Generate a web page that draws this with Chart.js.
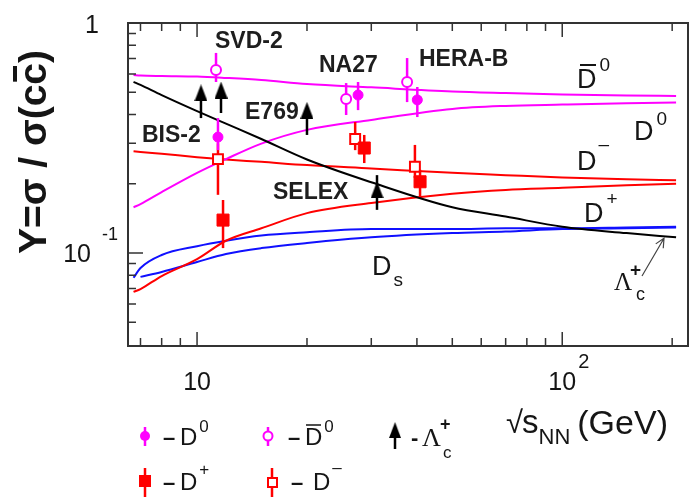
<!DOCTYPE html>
<html>
<head>
<meta charset="utf-8">
<script src="https://cdn.jsdelivr.net/npm/chart.js@4.4.0/dist/chart.umd.min.js"></script>
<style>
  html, body { margin: 0; padding: 0; background: #fff; }
  #wrap { width: 690px; height: 500px; }
</style>
</head>
<body>
<div id="wrap"><canvas id="yieldChart" width="690" height="500"></canvas></div>
<script>
// model curves, common sqrt(s) grid
const curveX   = [6.7, 7, 8, 10, 12, 15, 20, 30, 50, 70, 100, 150, 205];
const curveD0b = [0.594, 0.591, 0.588, 0.585, 0.577, 0.565, 0.543, 0.525, 0.504, 0.496, 0.489, 0.484, 0.482];
const curveD0  = [0.158, 0.163, 0.184, 0.223, 0.256, 0.299, 0.343, 0.379, 0.423, 0.436, 0.442, 0.448, 0.451];
const curveDm  = [0.277, 0.275, 0.270, 0.261, 0.255, 0.249, 0.241, 0.233, 0.223, 0.218, 0.213, 0.209, 0.207];
const curveDp  = [0.0677, 0.0697, 0.0794, 0.094, 0.113, 0.128, 0.149, 0.165, 0.181, 0.188, 0.192, 0.197, 0.200];
const curveDsHi = [0.078, 0.086, 0.098, 0.107, 0.113, 0.119, 0.123, 0.127, 0.127, 0.128, 0.128, 0.129, 0.130];
const curveDsLo = [null, 0.0787, 0.0827, 0.0914, 0.099, 0.105, 0.1105, 0.117, 0.122, 0.124, 0.127, 0.128, 0.129];
const curveLc  = [0.555, 0.538, 0.486, 0.414, 0.365, 0.313, 0.255, 0.203, 0.158, 0.144, 0.130, 0.122, 0.117];

// measurements (SVD-2, NA27, HERA-B)
const d0X = [11.41, 27.6, 40.1];
const d0Y = [0.319, 0.486, 0.463];
const d0Lo = [0.280, 0.418, 0.390];
const d0Hi = [0.386, 0.554, 0.527];

const d0bX = [11.27, 25.6, 37.6];
const d0bY = [0.625, 0.467, 0.554];
const d0bLo = [0.554, 0.398, 0.453];
const d0bHi = [0.741, 0.548, 0.704];

const dpX = [11.78, 28.7, 40.8];
const dpY = [0.139, 0.286, 0.204];
const dpLo = [0.105, 0.246, 0.175];
const dpHi = [0.170, 0.326, 0.230];

const dmX = [11.41, 27.1, 39.5];
const dmY = [0.256, 0.313, 0.237];
const dmLo = [0.179, 0.280, 0.212];
const dmHi = [0.300, 0.371, 0.295];

// Lambda_c (BIS-2, SVD-2, E769, SELEX)
const lcX = [10.25, 11.63, 20.0, 31.1];
const lcY = [0.497, 0.511, 0.417, 0.188];
const lcLo = [0.386, 0.406, 0.326, 0.154];
const lcHi = [null, null, null, 0.218];

// axis ticks
const xMajor = [10, 100];
const xMinor = [7, 8, 9, 20, 30, 40, 50, 60, 70, 80, 90, 200];
const yMajor = [0.1, 1];
const yMinor = [0.05, 0.06, 0.07, 0.08, 0.09, 0.2, 0.3, 0.4, 0.5, 0.6, 0.7, 0.8, 0.9];

const SANS = '"Liberation Sans", Arial, sans-serif';
const SERIF = '"Liberation Serif", "Times New Roman", serif';
const MAG = '#ff00ff', RED = '#ff0000', BLUE = '#1010ff', INK = '#151515';

function pts(xs, ys) {
  return xs.map((x, i) => ys[i] == null ? null : { x: x, y: ys[i] }).filter(p => p);
}

// tall triangle used as Lambda_c marker
function makeTriangle(w, h) {
  const c = document.createElement('canvas');
  c.width = w; c.height = h;
  const g = c.getContext('2d');
  g.fillStyle = '#000';
  g.beginPath();
  g.moveTo(w / 2, 0); g.lineTo(w, h); g.lineTo(0, h); g.closePath();
  g.fill();
  return c;
}
const triImg = makeTriangle(13, 17);

function rich(ctx, x, y, parts) {
  let cx = x;
  parts.forEach(p => {
    ctx.font = p.f;
    const w = ctx.measureText(p.t).width;
    ctx.fillText(p.t, cx + (p.dx || 0), y + (p.dy || 0));
    cx += w + (p.dx || 0);
  });
  return cx;
}

function bar(ctx, x1, x2, y, lw) {
  ctx.beginPath();
  ctx.lineWidth = lw || 2;
  ctx.moveTo(x1, y); ctx.lineTo(x2, y);
  ctx.stroke();
}

const errorBars = {
  id: 'errorBars',
  beforeDatasetDraw(chart, args) {
    const ds = chart.data.datasets[args.index];
    if (!ds.errLo) return;
    const ctx = chart.ctx, xs = chart.scales.x, ys = chart.scales.y;
    ctx.save();
    ctx.strokeStyle = ds.errColor;
    ctx.lineWidth = 2.5;
    ds.data.forEach((p, i) => {
      const px = xs.getPixelForValue(p.x);
      const lo = ds.errLo[i] == null ? p.y : ds.errLo[i];
      const hi = ds.errHi[i] == null ? p.y : ds.errHi[i];
      ctx.beginPath();
      ctx.moveTo(px, ys.getPixelForValue(lo));
      ctx.lineTo(px, ys.getPixelForValue(hi));
      ctx.stroke();
    });
    ctx.restore();
  }
};

const decorations = {
  id: 'decorations',
  afterDraw(chart) {
    const ctx = chart.ctx, a = chart.chartArea;
    const xs = chart.scales.x, ys = chart.scales.y;
    ctx.save();
    // frame
    ctx.strokeStyle = '#333';
    ctx.lineWidth = 2;
    ctx.strokeRect(a.left, a.top, a.right - a.left, a.bottom - a.top);
    // ticks, pointing inward
    ctx.lineWidth = 1.5;
    ctx.beginPath();
    xMajor.concat(xMinor).forEach(v => {
      const px = xs.getPixelForValue(v), len = xMajor.includes(v) ? 14 : 8;
      ctx.moveTo(px, a.bottom); ctx.lineTo(px, a.bottom - len);
      ctx.moveTo(px, a.top); ctx.lineTo(px, a.top + len);
    });
    yMajor.concat(yMinor).forEach(v => {
      const py = ys.getPixelForValue(v), len = yMajor.includes(v) ? 15 : 8;
      ctx.moveTo(a.left, py); ctx.lineTo(a.left + len, py);
    });
    ctx.stroke();

    ctx.fillStyle = INK;
    ctx.strokeStyle = INK;
    ctx.textBaseline = 'alphabetic';
    // tick labels
    ctx.textAlign = 'center';
    ctx.font = '25px ' + SANS;
    ctx.fillText('10', xs.getPixelForValue(10), 390);
    ctx.fillText('10', xs.getPixelForValue(100), 390);
    ctx.textAlign = 'left';
    ctx.font = '20px ' + SANS;
    ctx.fillText('2', xs.getPixelForValue(100) + 16, 368);
    ctx.textAlign = 'right';
    ctx.font = '25px ' + SANS;
    ctx.fillText('1', 99, ys.getPixelForValue(1) + 10);
    ctx.fillText('10', 91, ys.getPixelForValue(0.1) + 9);
    ctx.textAlign = 'left';
    ctx.font = '18px ' + SANS;
    ctx.fillText('-1', 102, ys.getPixelForValue(0.1) - 13);

    // axis titles
    const xe = rich(ctx, 506, 433, [
      { t: '\u221A', f: '31px ' + SANS },
      { t: 's', f: '33px ' + SANS, dx: -1 },
      { t: 'NN', f: '22px ' + SANS, dy: 11 }
    ]);
    ctx.font = '34px ' + SANS;
    ctx.fillText('(GeV)', xe + 7, 434);

    ctx.save();
    ctx.translate(46, 152);
    ctx.rotate(-Math.PI / 2);
    ctx.font = 'bold 39px ' + SANS;
    const t1 = 'Y=\u03C3 / \u03C3(c', t2 = 'c', t3 = ')';
    const w1 = ctx.measureText(t1).width, w2 = ctx.measureText(t2).width, w3 = ctx.measureText(t3).width;
    let sx = -(w1 + w2 + w3) / 2;
    ctx.fillText(t1, sx, 0);
    ctx.fillText(t2, sx + w1, 0);
    ctx.fillText(t3, sx + w1 + w2, 0);
    bar(ctx, sx + w1 + 3, sx + w1 + w2 - 3, -31, 4);
    ctx.restore();

    // experiment labels
    ctx.font = 'bold 23px ' + SANS;
    ctx.fillStyle = '#1e1e1e';
    ctx.fillText('SVD-2', 215, 48);
    ctx.fillText('NA27', 319, 72);
    ctx.fillText('HERA-B', 419, 66);
    ctx.fillText('E769', 245, 119);
    ctx.fillText('BIS-2', 142, 142);
    ctx.fillText('SELEX', 273, 199);
    ctx.fillStyle = INK;

    // curve labels
    const big = '27px ' + SANS, sup = '19px ' + SANS;
    rich(ctx, 577, 88, [{ t: 'D', f: big }, { t: '0', f: sup, dx: 3, dy: -17 }]);
    bar(ctx, 580, 596, 65, 2);
    rich(ctx, 634, 140, [{ t: 'D', f: big }, { t: '0', f: sup, dx: 3, dy: -15 }]);
    rich(ctx, 577, 170, [{ t: 'D', f: big }, { t: '\u2013', f: sup, dx: 2, dy: -20 }]);
    rich(ctx, 584, 222, [{ t: 'D', f: big }, { t: '+', f: sup, dx: 3, dy: -17 }]);
    rich(ctx, 372, 275, [{ t: 'D', f: big }, { t: 's', f: sup, dx: 2, dy: 11 }]);

    // Lambda_c label with arrow to the curve end
    ctx.font = '25px ' + SERIF;
    ctx.fillText('\u039B', 614, 290);
    ctx.font = 'bold 19px ' + SANS;
    ctx.fillText('+', 630, 276);
    ctx.font = '18px ' + SANS;
    ctx.fillText('c', 636, 300);
    const tipX = xs.getPixelForValue(190), tipY = ys.getPixelForValue(0.117) + 1;
    ctx.strokeStyle = '#444';
    ctx.lineWidth = 1.2;
    ctx.beginPath();
    ctx.moveTo(642, 276); ctx.lineTo(tipX, tipY);
    const ang = Math.atan2(tipY - 276, tipX - 642);
    ctx.moveTo(tipX - 10 * Math.cos(ang - 0.45), tipY - 10 * Math.sin(ang - 0.45));
    ctx.lineTo(tipX, tipY);
    ctx.lineTo(tipX - 10 * Math.cos(ang + 0.45), tipY - 10 * Math.sin(ang + 0.45));
    ctx.stroke();

    // legend
    const lf = '24px ' + SANS, ls = '17px ' + SANS, dash = 'bold 22px ' + SANS;
    function stem(x, y1, y2, col) {
      ctx.strokeStyle = col; ctx.lineWidth = 2.5;
      ctx.beginPath(); ctx.moveTo(x, y1); ctx.lineTo(x, y2); ctx.stroke();
    }
    // D0
    stem(145, 427, 446, MAG);
    ctx.fillStyle = MAG;
    ctx.beginPath(); ctx.arc(145, 436, 5, 0, Math.PI * 2); ctx.fill();
    ctx.fillStyle = INK;
    rich(ctx, 163, 445, [{ t: '\u2013', f: dash }, { t: ' D', f: lf, dx: -2 }, { t: '0', f: ls, dx: 2, dy: -13 }]);
    // D0 bar
    stem(268, 427, 446, MAG);
    ctx.fillStyle = '#fff'; ctx.strokeStyle = MAG; ctx.lineWidth = 2;
    ctx.beginPath(); ctx.arc(268, 436, 4.5, 0, Math.PI * 2); ctx.fill(); ctx.stroke();
    ctx.fillStyle = INK; ctx.strokeStyle = INK;
    rich(ctx, 288, 445, [{ t: '\u2013', f: dash }, { t: ' D', f: lf, dx: -2 }, { t: '0', f: ls, dx: 2, dy: -13 }]);
    bar(ctx, 306, 321, 425, 1.5);
    // Lambda_c
    stem(395, 432, 449, '#000');
    ctx.drawImage(triImg, 389, 422, 12, 16);
    ctx.fillStyle = INK;
    ctx.font = 'bold 22px ' + SANS;
    ctx.fillText('-', 411, 445);
    ctx.font = '26px ' + SERIF;
    ctx.fillText('\u039B', 422, 446);
    ctx.font = 'bold 18px ' + SANS;
    ctx.fillText('+', 440, 430);
    ctx.font = '17px ' + SANS;
    ctx.fillText('c', 443, 458);
    // D+
    stem(145, 468, 497, RED);
    ctx.fillStyle = RED;
    ctx.fillRect(139, 475, 12, 12);
    ctx.fillStyle = INK;
    rich(ctx, 163, 490, [{ t: '\u2013', f: dash }, { t: ' D', f: lf, dx: -2 }, { t: '+', f: ls, dx: 2, dy: -15 }]);
    // D-
    stem(272, 468, 497, RED);
    ctx.fillStyle = '#fff'; ctx.strokeStyle = RED; ctx.lineWidth = 2;
    ctx.fillRect(268, 478, 9, 9); ctx.strokeRect(268, 478, 9, 9);
    ctx.fillStyle = INK;
    rich(ctx, 291, 490, [{ t: '\u2013', f: dash }, { t: ' D', f: lf, dx: 3 }, { t: '\u2013', f: ls, dx: 2, dy: -17 }]);

    ctx.restore();
  }
};

const lineDs = (ys, color) => ({
  data: pts(curveX, ys), showLine: true, borderColor: color, borderWidth: 2,
  pointRadius: 0, tension: 0.4, cubicInterpolationMode: 'monotone', fill: false
});

const ctx = document.getElementById('yieldChart').getContext('2d');
new Chart(ctx, {
  type: 'scatter',
  data: {
    datasets: [
      { label: 'D0', data: pts(d0X, d0Y), pointStyle: 'circle', pointRadius: 5,
        backgroundColor: MAG, borderColor: MAG, borderWidth: 1,
        errLo: d0Lo, errHi: d0Hi, errColor: MAG },
      { label: 'D0bar', data: pts(d0bX, d0bY), pointStyle: 'circle', pointRadius: 5,
        backgroundColor: '#fff', borderColor: MAG, borderWidth: 2,
        errLo: d0bLo, errHi: d0bHi, errColor: MAG },
      { label: 'D+', data: pts(dpX, dpY), pointStyle: 'rect', pointRadius: 8.5,
        backgroundColor: RED, borderColor: RED, borderWidth: 1,
        errLo: dpLo, errHi: dpHi, errColor: RED },
      { label: 'D-', data: pts(dmX, dmY), pointStyle: 'rect', pointRadius: 7,
        backgroundColor: '#fff', borderColor: RED, borderWidth: 2,
        errLo: dmLo, errHi: dmHi, errColor: RED },
      { label: 'Lc', data: pts(lcX, lcY), pointStyle: triImg, pointRadius: 8,
        errLo: lcLo, errHi: lcHi, errColor: '#000' },
      lineDs(curveLc, '#000'),
      lineDs(curveD0b, MAG),
      lineDs(curveD0, MAG),
      lineDs(curveDm, RED),
      lineDs(curveDp, RED),
      lineDs(curveDsHi, BLUE),
      lineDs(curveDsLo, BLUE)
    ]
  },
  options: {
    responsive: false,
    animation: false,
    devicePixelRatio: 1,
    layout: { autoPadding: false, padding: { left: 128, top: 23, right: 2, bottom: 154 } },
    plugins: { legend: { display: false }, tooltip: { enabled: false } },
    scales: {
      x: { type: 'logarithmic', min: 6.47, max: 221, display: false },
      y: { type: 'logarithmic', min: 0.0394, max: 1, display: false }
    }
  },
  plugins: [errorBars, decorations]
});
</script>
</body>
</html>
